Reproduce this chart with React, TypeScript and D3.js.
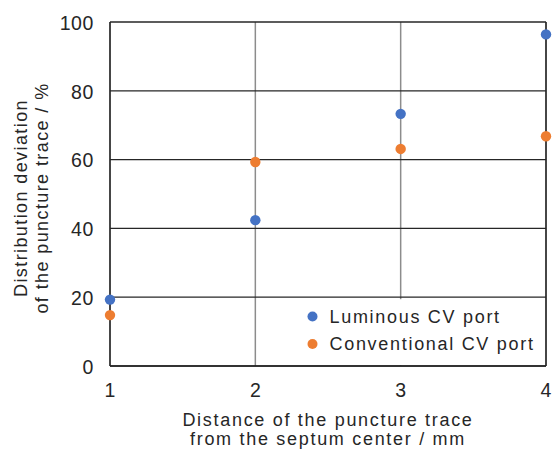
import React from 'react'
import * as d3 from 'd3'

const width = 552
const height = 451
const margin = { top: 22, right: 6, bottom: 85, left: 110 }

const distances = [1, 2, 3, 4]
const luminous = [19.3, 42.4, 73.3, 96.4]
const conventional = [14.8, 59.3, 63.1, 66.8]
const yTicks = [0, 20, 40, 60, 80, 100]
const seriesNames = ['Luminous CV port', 'Conventional CV port']
const seriesColors = ['#4472c4', '#ed7d31']

const font = "'Liberation Sans', Arial, sans-serif"
const textColor = '#262626'
const spacing = 1.7

function App() {
  const x = d3.scaleLinear().domain([1, 4]).range([margin.left, width - margin.right])
  const y = d3.scaleLinear().domain([0, 100]).range([height - margin.bottom, margin.top])
  const series = [luminous, conventional]

  return (
    <svg width={width} height={height} style={{ position: 'absolute', left: 0, top: 0 }} fontFamily={font}>
      <rect width={width} height={height} fill="#fff" />
      {/* vertical grid */}
      {distances.map(d => (
        <line key={'v' + d} x1={x(d)} x2={x(d)} y1={y(100)} y2={y(0)} stroke="#8c8c8c" strokeWidth={1.5} />
      ))}
      {/* horizontal grid */}
      {yTicks.map(t => (
        <line key={'h' + t} x1={x(1)} x2={x(4)} y1={y(t)} y2={y(t)} stroke="#262626" strokeWidth={1.3} />
      ))}
      {/* legend background */}
      <rect x={298} y={y(20) + 2} width={x(4) - 298 - 1} height={y(0) - y(20) - 3} fill="#fff" />
      {/* frame */}
      <line x1={x(1)} x2={x(1)} y1={y(100)} y2={y(0)} stroke="#262626" strokeWidth={1.5} />
      <line x1={x(4)} x2={x(4)} y1={y(100)} y2={y(0)} stroke="#262626" strokeWidth={1.5} />
      <line x1={x(1)} x2={x(4)} y1={y(0)} y2={y(0)} stroke="#262626" strokeWidth={1.5} />

      {/* y tick labels */}
      {yTicks.map(t => (
        <text key={'yt' + t} x={94} y={y(t) + 1} dy="0.35em" textAnchor="end" fontSize={19.5} letterSpacing={0.6} fill={textColor}>{t}</text>
      ))}
      {/* x tick labels */}
      {distances.map(d => (
        <text key={'xt' + d} x={x(d)} y={396.5} textAnchor="middle" fontSize={19.5} fill={textColor}>{d}</text>
      ))}

      {/* points */}
      {series.map((s, si) =>
        s.map((v, i) => (
          <circle key={si + '-' + i} cx={x(distances[i])} cy={y(v)} r={5.2} fill={seriesColors[si]} />
        ))
      )}

      {/* legend */}
      {seriesNames.map((n, i) => (
        <g key={n} transform={`translate(312.5, ${316.5 + i * 27.5})`}>
          <circle r={5} fill={seriesColors[i]} />
          <text x={17} dy="0.35em" fontSize={18} letterSpacing={spacing} fill={textColor}>{n}</text>
        </g>
      ))}

      {/* axis titles */}
      <text x={(x(1) + x(4)) / 2} y={426} textAnchor="middle" fontSize={18} letterSpacing={spacing} fill={textColor}>Distance of the puncture trace</text>
      <text x={(x(1) + x(4)) / 2} y={445} textAnchor="middle" fontSize={18} letterSpacing={spacing} fill={textColor}>from the septum center / mm</text>
      <g transform="translate(0, 198) rotate(-90)">
        <text x={0} y={27} textAnchor="middle" fontSize={18} letterSpacing={1.4} fill={textColor}>Distribution deviation</text>
        <text x={0} y={48} textAnchor="middle" fontSize={18} letterSpacing={1.4} fill={textColor}>of the puncture trace / %</text>
      </g>
    </svg>
  )
}

export default App
